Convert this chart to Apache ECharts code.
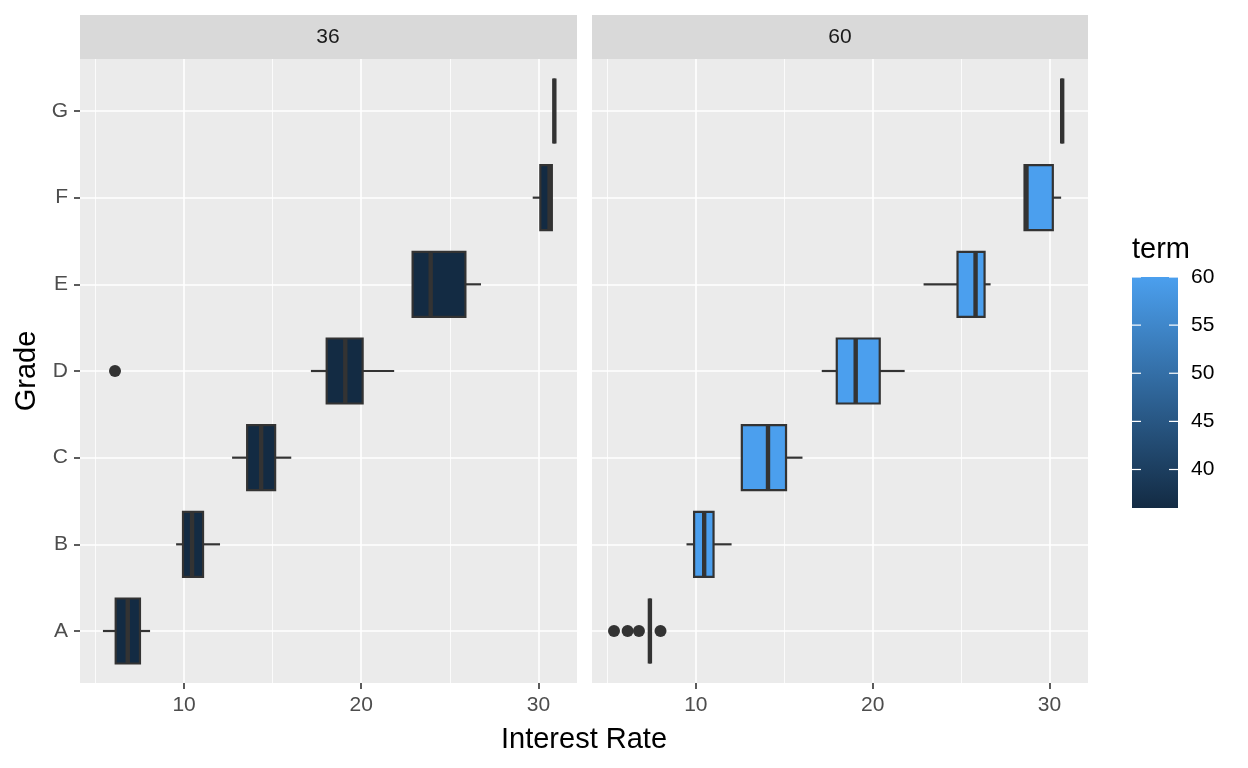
<!DOCTYPE html>
<html>
<head>
<meta charset="utf-8">
<script src="https://cdn.jsdelivr.net/npm/echarts@6/dist/echarts.min.js"></script>
<style>html,body{margin:0;padding:0;background:#fff;}#c{width:1248px;height:768px;}</style>
</head>
<body>
<div id="c"></div>
<script>
// ---- data ----
var grades = ['A','B','C','D','E','F','G'];
var panels = ['36','60'];
var termValues = [36, 60];
// term 36: [low, q1, median, q3, high] per grade
var low36  = [5.42, 9.55, 12.71, 17.16, 22.90, 29.68, 30.90];
var q1_36  = [6.14, 9.94, 13.56, 18.05, 22.90, 30.11, 30.90];
var med36  = [6.82, 10.45, 14.35, 19.10, 23.92, 30.63, 30.90];
var q3_36  = [7.51, 11.07, 15.14, 20.08, 25.88, 30.76, 30.90];
var high36 = [8.08, 12.03, 16.05, 21.86, 26.76, 30.76, 30.90];
var out36Grade = ['D'];
var out36Rate  = [6.10];
// term 60
var low60  = [7.40, 9.47, 12.60, 17.12, 22.88, 28.59, 30.72];
var q1_60  = [7.40, 9.90, 12.60, 17.97, 24.80, 28.59, 30.72];
var med60  = [7.40, 10.47, 14.08, 19.04, 25.82, 28.70, 30.72];
var q3_60  = [7.40, 11.00, 15.10, 20.40, 26.33, 30.19, 30.72];
var high60 = [7.40, 12.02, 16.03, 21.81, 26.67, 30.66, 30.72];
var out60Grade = ['A','A','A','A'];
var out60Rate  = [5.37, 6.14, 6.78, 8.00];
var xTicks = [10, 20, 30];
var xMinorTicks = [5, 15, 25];
var legendTicks = [40, 45, 50, 55, 60];
var termMin = 36, termMax = 60;
var xMin = 4.125, xMax = 32.18;

// ---- helpers ----
var FONT = "'Liberation Sans', Arial, Helvetica, sans-serif";
var SMALL = 21, BIG = 29;
var lowColor = '#132B43', highColor = '#4B9FEE';
function lerpColor(t){
  function h(c,i){return parseInt(c.substr(1+2*i,2),16);}
  var r=[0,1,2].map(function(i){return Math.round(h(lowColor,i)+(h(highColor,i)-h(lowColor,i))*t);});
  return 'rgb('+r.join(',')+')';
}
function boxData(lo,q1,md,q3,hi){
  return grades.map(function(g,i){return [i+1, lo[i], q1[i], md[i], q3[i], hi[i]];});
}
function outData(gs, rs){
  return gs.map(function(g,i){return [rs[i], grades.indexOf(g)+1];});
}
function renderBox(fill){
  return function(params, api){
    var y = api.value(0);
    var pLo = api.coord([api.value(1), y]);
    var pQ1 = api.coord([api.value(2), y]);
    var pMd = api.coord([api.value(3), y]);
    var pQ3 = api.coord([api.value(4), y]);
    var pHi = api.coord([api.value(5), y]);
    var h = api.size([0, 0.75])[1];
    var cy = pMd[1];
    var st = '#333333';
    return {type:'group', children:[
      {type:'line', shape:{x1:pLo[0],y1:cy,x2:pQ1[0],y2:cy}, style:{stroke:st,lineWidth:2.2}},
      {type:'line', shape:{x1:pQ3[0],y1:cy,x2:pHi[0],y2:cy}, style:{stroke:st,lineWidth:2.2}},
      {type:'rect', shape:{x:pQ1[0],y:cy-h/2,width:pQ3[0]-pQ1[0],height:h}, style:{fill:fill,stroke:st,lineWidth:2.2}},
      {type:'line', shape:{x1:pMd[0],y1:cy-h/2,x2:pMd[0],y2:cy+h/2}, style:{stroke:st,lineWidth:4.4}}
    ]};
  };
}

var grids = [
  {left:80, top:59, width:497, height:624},
  {left:592, top:59, width:496, height:624},
  {left:1132, top:277, width:46, height:231}
];
var xAxes = [], yAxes = [];
[0,1].forEach(function(k){
  xAxes.push({type:'value', gridIndex:k, min:xMin, max:xMax,
    axisLine:{show:false},
    axisTick:{show:true, length:6, lineStyle:{color:'#333333', width:1.6}, customValues:xTicks},
    axisLabel:{customValues:xTicks, color:'#4D4D4D', fontSize:SMALL, fontFamily:FONT, margin:12},
    splitLine:{show:true, lineStyle:{color:'#ffffff', width:1.6}}
  });
});
[0,1].forEach(function(k){
  xAxes.push({type:'value', gridIndex:k, min:xMin, max:xMax,
    axisLine:{show:false},
    axisTick:{show:false, customValues:xMinorTicks},
    axisLabel:{show:false, customValues:xMinorTicks},
    splitLine:{show:true, lineStyle:{color:'#ffffff', width:0.8}}
  });
});
xAxes.push({type:'value', gridIndex:2, min:0, max:1, show:false});
var yCats = grades.map(function(g,i){return i+1;});
[0,1].forEach(function(k){
  yAxes.push({type:'value', gridIndex:k, min:0.4, max:7.6,
    axisLine:{show:false},
    axisTick:{show:k===0, length:6, lineStyle:{color:'#333333', width:1.6}, customValues:yCats},
    axisLabel:{show:k===0, customValues:yCats, color:'#4D4D4D', fontSize:SMALL, fontFamily:FONT, margin:12,
      formatter:function(v){return grades[Math.round(v)-1];}},
    splitLine:{show:true, lineStyle:{color:'#ffffff', width:1.6}}
  });
});
yAxes.push({type:'value', gridIndex:2, min:termMin, max:termMax, position:'right',
  axisLine:{show:false},
  axisTick:{show:false, customValues:legendTicks},
  axisLabel:{customValues:legendTicks, color:'#000000', fontSize:SMALL, fontFamily:FONT, margin:13},
  splitLine:{show:false}
});

var fill36 = lerpColor((termValues[0]-termMin)/(termMax-termMin));
var fill60 = lerpColor((termValues[1]-termMin)/(termMax-termMin));

var series = [
  {type:'custom', xAxisIndex:0, yAxisIndex:0, renderItem:renderBox(fill36),
    encode:{x:[1,2,3,4,5], y:0}, data:boxData(low36,q1_36,med36,q3_36,high36), z:3},
  {type:'custom', xAxisIndex:1, yAxisIndex:1, renderItem:renderBox(fill60),
    encode:{x:[1,2,3,4,5], y:0}, data:boxData(low60,q1_60,med60,q3_60,high60), z:3},
  {type:'scatter', xAxisIndex:0, yAxisIndex:0, symbolSize:12, itemStyle:{color:'#333333', opacity:1},
    data:outData(out36Grade,out36Rate), z:4},
  {type:'scatter', xAxisIndex:1, yAxisIndex:1, symbolSize:12, itemStyle:{color:'#333333', opacity:1},
    data:outData(out60Grade,out60Rate), z:4},
  {type:'custom', xAxisIndex:4, yAxisIndex:2, z:1,
    renderItem:function(params, api){
      var p0 = api.coord([0, api.value(0)]);
      var p1 = api.coord([1, api.value(1)]);
      return {type:'rect', shape:{x:p0[0], y:p1[1], width:p1[0]-p0[0], height:p0[1]-p1[1]},
        style:{fill:new echarts.graphic.LinearGradient(0,1,0,0,[{offset:0,color:lowColor},{offset:1,color:highColor}])}};
    },
    encode:{y:[0,1]},
    data:[[termMin, termMax]]},
  {type:'custom', xAxisIndex:4, yAxisIndex:2, z:2,
    renderItem:function(params, api){
      var pl = api.coord([0, api.value(0)]);
      var pr = api.coord([1, api.value(0)]);
      return {type:'group', children:[
        {type:'line', shape:{x1:pl[0], y1:pl[1], x2:pl[0]+9, y2:pl[1]}, style:{stroke:'#ffffff', lineWidth:1.2}},
        {type:'line', shape:{x1:pr[0]-9, y1:pr[1], x2:pr[0], y2:pr[1]}, style:{stroke:'#ffffff', lineWidth:1.2}}
      ]};
    },
    encode:{y:0},
    data:legendTicks.map(function(v){return [v];})}
];

var chart = echarts.init(document.getElementById('c'), null, {renderer:'canvas'});
chart.setOption({
  backgroundColor:'#ffffff',
  animation:false,
  textStyle:{fontFamily:FONT},
  grid: grids.map(function(g,i){
    return Object.assign({show:i<2, backgroundColor:'#EBEBEB', borderWidth:0, containLabel:false}, g);
  }),
  xAxis:xAxes,
  yAxis:yAxes,
  series:series,
  graphic:[
    {type:'rect', shape:{x:80, y:15, width:497, height:44}, style:{fill:'#D9D9D9'}},
    {type:'rect', shape:{x:592, y:15, width:496, height:44}, style:{fill:'#D9D9D9'}},
    {type:'text', x:328, y:37, style:{text:panels[0], fill:'#1A1A1A', font:SMALL+'px '+FONT, align:'center', verticalAlign:'middle'}},
    {type:'text', x:840, y:37, style:{text:panels[1], fill:'#1A1A1A', font:SMALL+'px '+FONT, align:'center', verticalAlign:'middle'}},
    {type:'text', x:584, y:740, style:{text:'Interest Rate', fill:'#000000', font:BIG+'px '+FONT, align:'center', verticalAlign:'middle'}},
    {type:'text', x:27, y:371, rotation:Math.PI/2, style:{text:'Grade', fill:'#000000', font:BIG+'px '+FONT, align:'center', verticalAlign:'middle'}},
    {type:'text', x:1132, y:250, style:{text:'term', fill:'#000000', font:BIG+'px '+FONT, align:'left', verticalAlign:'middle'}}
  ]
});
</script>
</body>
</html>
